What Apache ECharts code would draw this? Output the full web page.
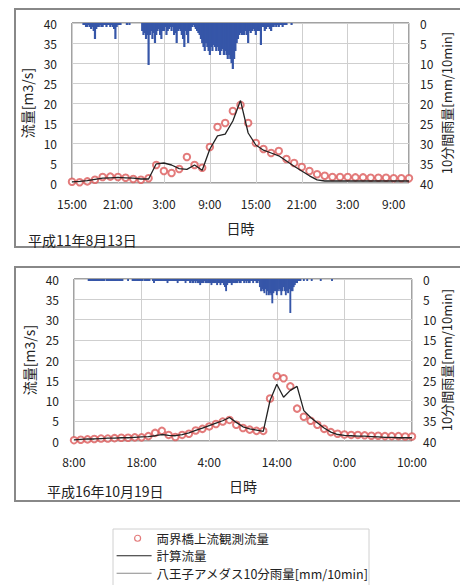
<!DOCTYPE html>
<html><head><meta charset="utf-8">
<script src="https://cdn.jsdelivr.net/npm/echarts@6/dist/echarts.min.js"></script>
<style>html,body{margin:0;padding:0;background:#fff}#c{width:460px;height:585px}</style>
</head><body><div id="c"></div>
<script>
// ---------- text ----------
const obsName = '両界橋上流観測流量';
const calcName = '計算流量';
const rainName = '八王子アメダス10分雨量[mm/10min]';
const leftAxisName = '流量[m3/s]';
const rightAxisName = '10分間雨量[mm/10min]';
const xAxisName = '日時';
const topDate = '平成11年8月13日';
const bottomDate = '平成16年10月19日';

// ---------- tick labels ----------
const topTickLabels = ['15:00','21:00','3:00','9:00','15:00','21:00','3:00','9:00'];
const bottomTickLabels = ['8:00','18:00','4:00','14:00','0:00','10:00'];
const flowTicks = [0,5,10,15,20,25,30,35,40];

// ---------- top chart (H11.8.13 15:00 start, hourly flow, 10-min rain) ----------
const topCalc = [0.3,0.4,0.6,0.9,1.2,1.3,1.4,1.3,1.2,1.0,
                 1.0,4.8,5.0,4.5,3.6,3.4,4.5,3.2,8.5,11.8,
                 12.2,15.5,20.6,12.5,9.5,8.2,7.5,6.8,5.5,4.2,
                 3.0,1.8,0.8,0.5,0.5,0.5,0.5,0.5,0.5,0.5,
                 0.5,0.5,0.5,0.5,0.5];
const topObs  = [0.3,0.2,0.4,0.8,1.5,1.6,1.5,1.3,1.0,0.8,
                 1.2,4.5,3.0,2.5,3.5,6.5,4.5,3.8,9.0,14.0,
                 15.0,18.0,19.5,15.0,10.0,8.5,7.5,8.0,6.0,5.0,
                 4.0,3.0,2.2,1.8,1.5,1.5,1.5,1.4,1.4,1.3,
                 1.3,1.3,1.2,1.2,1.2];
const topRain = [
  0,0,0,0,0,0,
  0,0,0,0.5,0.5,1,
  1,0.5,1,1.5,1,2,
  4,1.5,1,1,0.5,1,
  1,0.5,0.5,1,0.5,0.5,
  1,0.5,1,1.5,4,1,
  0.5,0.5,0.5,0,0,0,
  0,0.5,0,0.5,0,0,
  0,0,0,0,0,0,
  0,2,3,2.5,4,3,
  10.5,3,2,4,2.5,5,
  3,2,1.5,3,4,2,
  2,1,3,2,1.5,1,
  2,1,3,2.5,5,2,
  1.5,2,3,4,6,2,
  3,5,2,2,1,0.5,
  1,1.5,2,2.5,3,4,
  5,6,7,5,6,7,
  8,6,7,5.5,6,7,
  6,7,8,7,6.5,8,
  7,8,9,8,9,10,
  11.5,9,7,5,4,3,
  2.5,3,3,3,2,3,
  5,2,2.5,2,1.5,2,
  3,2,2,2,5.5,1,
  1,2,1.5,1,1,1.5,
  2,1,1,0.5,1,0.5,
  1,0.5,0.5,1,0.5,0.5,
  0.5,0,0,0,0.5,0
];

// ---------- bottom chart (H16.10.19 8:00 start) ----------
const bottomCalc = [0.3,0.4,0.5,0.5,0.6,0.7,0.7,0.8,0.8,0.9,
                    1.0,1.1,1.3,1.6,1.4,1.3,1.6,2.0,2.6,3.2,
                    3.8,4.4,5.0,5.8,4.6,3.5,3.0,2.7,2.4,10.0,
                    14.0,10.8,12.5,13.5,7.5,5.8,4.5,3.2,2.2,1.6,
                    1.4,1.3,1.2,1.2,1.1,1.0,0.9,0.9,0.8,0.8,0.8];
const bottomObs  = [0.2,0.3,0.4,0.5,0.6,0.6,0.7,0.8,0.8,0.9,
                    0.9,1.2,2.0,2.5,1.5,1.0,1.5,1.8,2.6,3.0,
                    3.6,4.2,4.8,5.2,4.0,3.2,2.8,2.5,2.5,10.5,
                    16.0,15.5,13.5,8.0,6.0,5.0,4.0,3.0,2.2,1.8,
                    1.6,1.5,1.5,1.4,1.3,1.3,1.2,1.2,1.2,1.1,1.1];
const bottomRain = [
  0,0,0,0,0,0,
  0,0,0,0,0,0,
  0,0.5,0.5,0.5,0.5,0.5,
  0.5,0.5,0.5,0.5,0.5,0.5,
  0.5,0.5,0.5,0.5,0,0.5,
  0.5,0.5,0.5,0.5,0.5,0.5,
  0.5,0.5,0.5,0.5,0.5,0.5,
  0.5,0.5,0,0,0,0,
  0.5,0,0,0,0.5,0.5,
  0.5,0.5,0.5,0.5,0.5,0.5,
  0.5,0.5,0,0.5,0.5,0.5,
  0.5,0.5,0,0,0.5,1,
  0.5,0.5,0.5,0.5,0.5,0.5,
  0.5,0.5,0.5,0.5,0.5,1,
  0.5,0.5,0.5,0.5,0.5,0.5,
  0.5,0.5,1,0.5,0.5,0.5,
  0.5,0.5,0.5,1,0.5,0.5,
  0.5,1,0.5,1,1,0.5,
  1,0.5,1,1,1.5,1,
  1,1,0.5,1,1,1,
  1,1,1.5,1,1,1,
  1,1.5,1,1,1.5,1,
  1,1.5,2,3,1.5,1,
  1,1,1.5,1,1,1,
  1,1,0.5,1,1,0.5,
  0.5,1,0.5,1,0.5,1,
  1,0.5,0.5,1,0.5,0.5,
  1,1,0.5,2,3,2.5,
  3,3.5,2.5,4,3,4,
  3.5,4,6,3.5,3,3,
  4,3,2.5,3,4,3,
  2,3,4,3,3.5,2.5,
  8.4,3,3,2,1.5,1,
  1,0.5,0.5,0.5,0,0,
  0.5,0,0,0.5,0,0,
  0,0.5,0,0,0,0,
  0,0,0,0.5,0,0,
  0,0,0,0,0,0,
  0,0.5,0,0,0,0
];

// sample times in hours from chart start
function pairs(arr, stepHours) { return arr.map((v, i) => [i * stepHours, v]); }

const FONT = '"Noto Sans CJK JP", "Noto Sans", sans-serif';
const txt = '#222';
const gridLine = '#cfcfcf';
const rainColor = '#3656a8';
const obsColor = '#dc5a5a';
const calcColor = '#222';
const lineIcon = 'path://M0,0M0,4.4H35V5.6H0ZM35,10';
const thinIcon = 'path://M0,0M0,4.6H35V5.4H0ZM35,10';
const circleIcon = 'path://M0,0M35,10M24,5A3,3,0,1,1,18,5A3,3,0,1,1,24,5Z';

function xAxisFor(gridIndex, max, interval, labels) {
  return {
    type: 'value', gridIndex, min: 0, max, interval,
    name: xAxisName, nameLocation: 'middle', nameGap: 38, nameMoveOverlap: false,
    nameTextStyle: { fontSize: 14, color: txt, fontFamily: FONT },
    axisLine: { show: false }, axisTick: { show: false },
    axisLabel: {
      margin: 14, fontSize: 12, color: txt, fontFamily: FONT,
      formatter: v => { const i = v / interval; return (Number.isInteger(i) && labels[i] !== undefined) ? labels[i] : ''; }
    },
    splitLine: { show: true, lineStyle: { color: gridLine, width: 1 } }
  };
}
function yAxesFor(gridIndex, rightGap) {
  return [
    { type: 'value', gridIndex, min: flowTicks[0], max: flowTicks[flowTicks.length - 1], interval: 5,
      name: leftAxisName, nameLocation: 'middle', nameGap: 38, nameRotate: 90, nameMoveOverlap: false,
      nameTextStyle: { fontSize: 14, color: txt, fontFamily: FONT },
      axisLine: { show: false }, axisTick: { show: false },
      axisLabel: { margin: 15, fontSize: 12, color: txt, fontFamily: FONT },
      splitLine: { show: true, lineStyle: { color: gridLine, width: 1 } } },
    { type: 'value', gridIndex, min: 0, max: 40, interval: 5, inverse: true, position: 'right',
      name: rightAxisName, nameLocation: 'middle', nameGap: rightGap, nameRotate: 90, nameMoveOverlap: false,
      nameTextStyle: { fontSize: 13, color: txt, fontFamily: FONT },
      axisLine: { show: false }, axisTick: { show: false },
      axisLabel: { margin: 11, fontSize: 12, color: txt, fontFamily: FONT },
      splitLine: { show: false } }
  ];
}
function seriesFor(idx, rain, obs, calc, barW) {
  return [
    { name: rainName, type: 'bar', xAxisIndex: idx, yAxisIndex: idx * 2 + 1,
      data: pairs(rain, 1 / 6), barWidth: barW, itemStyle: { color: rainColor }, silent: true },
    { name: obsName, type: 'scatter', xAxisIndex: idx, yAxisIndex: idx * 2,
      data: pairs(obs, 1), symbol: 'emptyCircle', symbolSize: 6.5,
      itemStyle: { color: obsColor, borderColor: obsColor, borderWidth: 1.2 } },
    { name: calcName, type: 'line', xAxisIndex: idx, yAxisIndex: idx * 2,
      data: pairs(calc, 1), symbol: 'none', showSymbol: false,
      lineStyle: { color: calcColor, width: 1.3 }, itemStyle: { color: calcColor } }
  ];
}

const chart = echarts.init(document.getElementById('c'), null, { renderer: 'svg' });
chart.setOption({
  animation: false,
  backgroundColor: '#fff',
  textStyle: { fontFamily: FONT },
  grid: [
    { left: 72, top: 23, width: 337, height: 160, show: true, borderColor: '#444', borderWidth: 1, outerBoundsMode: 'none' },
    { left: 74, top: 279, width: 338, height: 162, show: true, borderColor: '#444', borderWidth: 1, outerBoundsMode: 'none' }
  ],
  xAxis: [ xAxisFor(0, 44, 6, topTickLabels), xAxisFor(1, 50, 10, bottomTickLabels) ],
  yAxis: [ ...yAxesFor(0, 31), ...yAxesFor(1, 28) ],
  legend: {
    orient: 'vertical', left: 116, top: 532,
    itemWidth: 35, itemHeight: 10, itemGap: 5,
    borderWidth: 0, padding: 0,
    textStyle: { fontSize: 12.5, color: txt, fontFamily: FONT },
    data: [
      { name: obsName, icon: circleIcon, itemStyle: { color: '#fff', borderColor: obsColor, borderWidth: 1.2 } },
      { name: calcName, icon: lineIcon, itemStyle: { color: calcColor } },
      { name: rainName, icon: thinIcon, itemStyle: { color: '#8a8a8a' } }
    ]
  },
  graphic: [
    { type: 'rect', shape: { x: 15, y: 9, width: 460, height: 238 }, style: { fill: 'none', stroke: '#888', lineWidth: 2 }, silent: true },
    { type: 'rect', shape: { x: 15, y: 267, width: 460, height: 234 }, style: { fill: 'none', stroke: '#888', lineWidth: 2 }, silent: true },
    { type: 'rect', shape: { x: 113, y: 529, width: 256, height: 70 }, style: { fill: 'none', stroke: '#d0d0d0', lineWidth: 1 }, silent: true, z: -1 },
    { type: 'text', left: 28, top: 233, style: { text: topDate, fontSize: 14, fill: txt, fontFamily: FONT } },
    { type: 'text', left: 47, top: 484, style: { text: bottomDate, fontSize: 14, fill: txt, fontFamily: FONT } }
  ],
  series: [ ...seriesFor(0, topRain, topObs, topCalc, 2.2), ...seriesFor(1, bottomRain, bottomObs, bottomCalc, 1.9) ]
});
</script>
</body></html>
